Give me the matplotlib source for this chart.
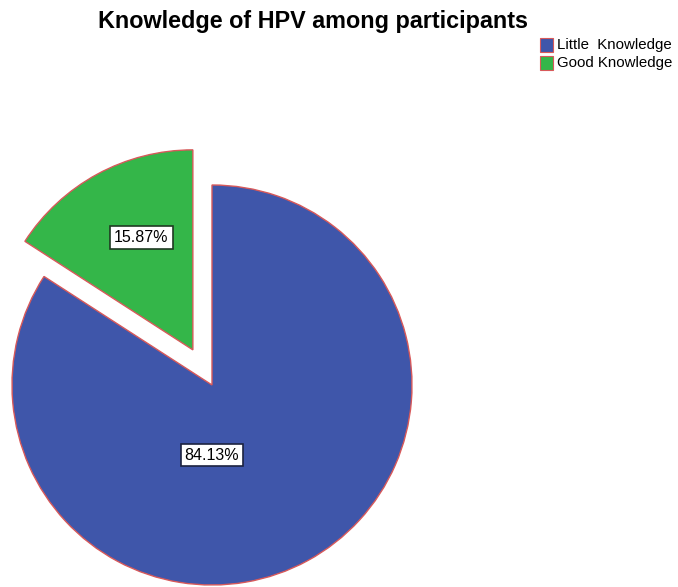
import matplotlib
matplotlib.use("Agg")
from matplotlib import pyplot as plt
from matplotlib.patches import Rectangle
import numpy as np

labels = ['Little  Knowledge', 'Good Knowledge']
percents = [84.13, 15.87]
colors = ['#3F56AA', '#34B649']
edge = '#D8595A'

fig = plt.figure(figsize=(6.78, 5.87), dpi=100)
ax = fig.add_axes([0, 0, 1, 1])

wedges, _ = ax.pie(percents, colors=colors, startangle=90, counterclock=False,
                   explode=[0, 0.2], radius=1.0,
                   wedgeprops=dict(edgecolor=edge, linewidth=1.0))

# pie() resets the view, so fix the limits afterwards
ax.set_xlim(-1.06, 2.33)
ax.set_ylim(-1.01, 1.925)
ax.set_aspect('equal')
ax.axis('off')

box = dict(boxstyle='square,pad=0.25', facecolor='white', linewidth=1.2)

# label for the big slice sits below the centre
ax.text(0, -0.35, f'{percents[0]:.2f}%', ha='center', va='center',
        fontsize=11.5, family='Liberation Sans', bbox=dict(box, edgecolor='#1c2340'))

# label for the exploded slice, inside the wedge
w = wedges[1]
mid = np.deg2rad((w.theta1 + w.theta2) / 2 - 4)
cx, cy = w.center
r = 0.62
ax.text(cx + r * np.cos(mid), cy + r * np.sin(mid), f'{percents[1]:.2f}%',
        ha='center', va='center', fontsize=11.5, family='Liberation Sans',
        bbox=dict(box, edgecolor='#1f3a22'))

fig.text(0.461, 0.964, 'Knowledge of HPV among participants', ha='center', va='center',
         fontsize=16.8, fontweight='bold', family='Liberation Sans')

# legend drawn by hand in figure coords
for i, (lab, col) in enumerate(zip(labels, colors)):
    y = 0.924 - i * 0.032
    fig.patches.append(Rectangle((0.797, y - 0.012), 0.018, 0.024, transform=fig.transFigure,
                                 facecolor=col, edgecolor=edge, linewidth=0.8))
    fig.text(0.821, y, lab, ha='left', va='center', fontsize=10.8, family='Liberation Sans')

fig.savefig('out.png', dpi=100)
